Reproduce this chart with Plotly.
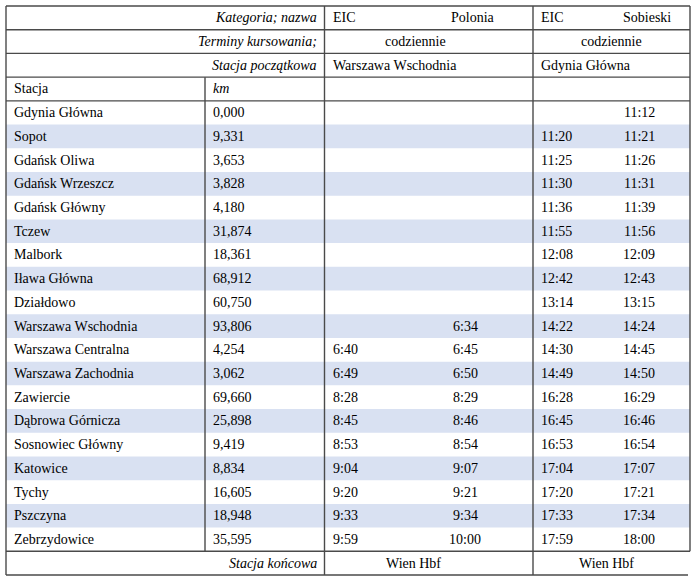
import plotly.graph_objects as go

# ---------------- data ----------------
stations = ["Gdynia Główna", "Sopot", "Gdańsk Oliwa", "Gdańsk Wrzeszcz", "Gdańsk Główny",
            "Tczew", "Malbork", "Iława Główna", "Działdowo", "Warszawa Wschodnia",
            "Warszawa Centralna", "Warszawa Zachodnia", "Zawiercie", "Dąbrowa Górnicza",
            "Sosnowiec Główny", "Katowice", "Tychy", "Pszczyna", "Zebrzydowice"]
km = ["0,000", "9,331", "3,653", "3,828", "4,180", "31,874", "18,361", "68,912", "60,750",
      "93,806", "4,254", "3,062", "69,660", "25,898", "9,419", "8,834", "16,605", "18,948", "35,595"]
polonia_arr = ["", "", "", "", "", "", "", "", "", "",
               "6:40", "6:49", "8:28", "8:45", "8:53", "9:04", "9:20", "9:33", "9:59"]
polonia_dep = ["", "", "", "", "", "", "", "", "", "6:34",
               "6:45", "6:50", "8:29", "8:46", "8:54", "9:07", "9:21", "9:34", "10:00"]
sobieski_arr = ["", "11:20", "11:25", "11:30", "11:36", "11:55", "12:08", "12:42", "13:14",
                "14:22", "14:30", "14:49", "16:28", "16:45", "16:53", "17:04", "17:20", "17:33", "17:59"]
sobieski_dep = ["11:12", "11:21", "11:26", "11:31", "11:39", "11:56", "12:09", "12:43", "13:15",
                "14:24", "14:45", "14:50", "16:29", "16:46", "16:54", "17:07", "17:21", "17:34", "18:00"]

header_labels = ["Kategoria; nazwa", "Terminy kursowania;", "Stacja początkowa"]
train_category = ["EIC", "EIC"]
train_name = ["Polonia", "Sobieski"]
train_days = ["codziennie", "codziennie"]
train_start = ["Warszawa Wschodnia", "Gdynia Główna"]
train_end = ["Wien Hbf", "Wien Hbf"]
col_headers = ["Stacja", "km"]
end_label = "Stacja końcowa"

# ---------------- layout geometry ----------------
W, H = 700, 577
TOP, BOTTOM = 6, 575
N_ROWS = 3 + 1 + len(stations) + 1
RH = (BOTTOM - TOP) / N_ROWS
X_L, X_KM, X_C1, X_C2, X_R = 6, 205, 324.5, 533, 690
PAD = 6
ARR_X = [X_C1 + PAD, X_C2 + PAD]
DEP_CX = [465, 639]
NAME_RX = [497, 673]
CENTER_X = [415, 611]
END_CX = [413, 606]

FONT = dict(family="Liberation Serif, Times New Roman, serif", size=14, color="black")
LINE = dict(color="#4a4a4a", width=1.4)
ZEBRA = "#D9E1F2"

fig = go.Figure()
fig.add_trace(go.Scatter(x=[0, W], y=[0, N_ROWS], mode="markers",
                         marker=dict(opacity=0), hoverinfo="skip", showlegend=False))

annotations = []
shapes = []


def txt(x, row, text, anchor):
    annotations.append(dict(x=x, y=row + 0.5, xref="x", yref="y", text=text,
                            showarrow=False, xanchor=anchor, yanchor="middle", font=FONT))


def hline(y, x0, x1):
    shapes.append(dict(type="line", xref="x", yref="y", x0=x0, x1=x1, y0=y, y1=y, line=LINE))


def vline(x, y0, y1):
    shapes.append(dict(type="line", xref="x", yref="y", x0=x, x1=x, y0=y0, y1=y1, line=LINE))


first = 4
# zebra bands
for i in range(len(stations)):
    if i % 2 == 1:
        shapes.append(dict(type="rect", xref="x", yref="y", x0=X_L, x1=X_R,
                           y0=first + i, y1=first + i + 1, fillcolor=ZEBRA,
                           line=dict(width=0), layer="below"))

# header rows
for r, lab in enumerate(header_labels):
    txt(X_C1 - PAD, r, f"<i>{lab}</i>", "right")
for k in range(2):
    txt(ARR_X[k], 0, train_category[k], "left")
    txt(NAME_RX[k], 0, train_name[k], "right")
    txt(CENTER_X[k], 1, train_days[k], "center")
    txt(ARR_X[k], 2, train_start[k], "left")
txt(X_L + PAD, 3, col_headers[0], "left")
txt(X_KM + PAD, 3, f"<i>{col_headers[1]}</i>", "left")

# station rows
for i, st in enumerate(stations):
    r = first + i
    txt(X_L + PAD, r, st, "left")
    txt(X_KM + PAD, r, km[i], "left")
    if polonia_arr[i]:
        txt(ARR_X[0], r, polonia_arr[i], "left")
    if polonia_dep[i]:
        txt(DEP_CX[0], r, polonia_dep[i], "center")
    if sobieski_arr[i]:
        txt(ARR_X[1], r, sobieski_arr[i], "left")
    if sobieski_dep[i]:
        txt(DEP_CX[1], r, sobieski_dep[i], "center")

last = N_ROWS - 1
txt(X_C1 - PAD, last, f"<i>{end_label}</i>", "right")
for k in range(2):
    txt(END_CX[k], last, train_end[k], "center")

# grid lines
for y in [0, 1, 2, 3, 4, last]:
    hline(y, X_L, X_R)
hline(N_ROWS, X_L, X_R - 2)
vline(X_L, 0, N_ROWS)
vline(X_KM, 3, last)
vline(X_C1, 0, N_ROWS)
vline(X_C2, 0, N_ROWS)
vline(X_R, 0, last)

y_top = -TOP / RH
y_bot = (H - TOP) / RH
fig.update_layout(
    width=W, height=H, margin=dict(l=0, r=0, t=0, b=0),
    paper_bgcolor="white", plot_bgcolor="white",
    xaxis=dict(range=[0, W], visible=False, fixedrange=True),
    yaxis=dict(range=[y_bot, y_top], visible=False, fixedrange=True),
    annotations=annotations, shapes=shapes, showlegend=False,
)
fig.write_html("out.html", config=dict(displayModeBar=False),
               post_script="document.body.style.margin='0px';document.body.style.overflow='hidden';")
